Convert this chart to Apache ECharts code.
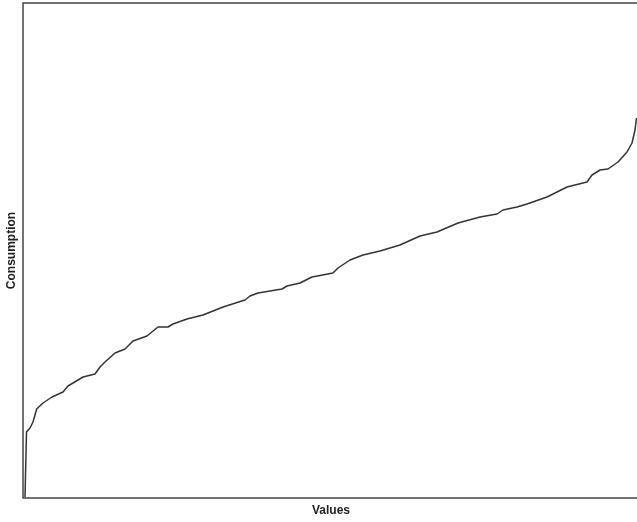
<!DOCTYPE html>
<html>
<head>
<meta charset="utf-8">
<script src="https://cdn.jsdelivr.net/npm/echarts@6/dist/echarts.min.js"></script>
<style>html,body{margin:0;padding:0;background:#fff;}#c{width:637px;height:522px;}</style>
</head>
<body>
<div id="c"></div>
<script>
var xValues = [2, 3.5, 4, 7, 10, 13.7, 20, 29, 40, 45, 60, 72, 77, 82, 92, 102, 110, 124, 135, 145, 150, 164, 180, 190, 200, 222, 227, 235, 259, 264, 277, 289, 310, 315, 327, 340, 357, 377, 397, 414, 435, 457, 474, 480, 494, 504, 524, 544, 564, 569, 577, 585, 595, 604, 609, 612, 613.5];
var consumption = [1, 66, 68, 70, 76, 89, 95, 101, 106, 112, 121, 124, 131, 136, 145, 149, 157, 162, 171, 171, 174, 179, 183, 187, 191, 198, 202, 205, 209, 212, 215, 221, 225, 230, 238, 243, 247, 253, 262, 266, 275, 281, 284, 288, 291, 294, 301, 311, 316, 323, 328, 329, 336, 346, 355, 368, 380];
var xTitle = 'Values';
var yTitle = 'Consumption';

var pts = xValues.map(function (x, i) { return [x, consumption[i]]; });
var chart = echarts.init(document.getElementById('c'), null, {renderer: 'canvas'});
var font = 'Liberation Sans, Arial, Helvetica, sans-serif';
chart.setOption({
  animation: false,
  backgroundColor: '#fff',
  grid: {left: 23, top: 3, width: 628, height: 495, outerBoundsMode: 'none', containLabel: false,
         show: true, borderColor: '#444', borderWidth: 1.5, backgroundColor: 'transparent'},
  xAxis: {
    type: 'value', min: 0, max: 628,
    axisLine: {show: false}, axisTick: {show: false}, axisLabel: {show: false}, splitLine: {show: false}
  },
  yAxis: {
    type: 'value', min: 0, max: 495,
    name: yTitle, nameLocation: 'middle', nameGap: 5,
    nameTextStyle: {fontFamily: font, fontWeight: 'bold', fontSize: 12, color: '#222'},
    axisLine: {show: false}, axisTick: {show: false}, axisLabel: {show: false}, splitLine: {show: false}
  },
  graphic: [{
    type: 'text', left: 312, top: 505,
    style: {text: xTitle, font: 'bold 12px ' + font, fill: '#222'}
  }],
  series: [{
    type: 'line', data: pts, showSymbol: false, symbol: 'none',
    lineStyle: {color: '#333', width: 1.5}
  }]
});
</script>
</body>
</html>
